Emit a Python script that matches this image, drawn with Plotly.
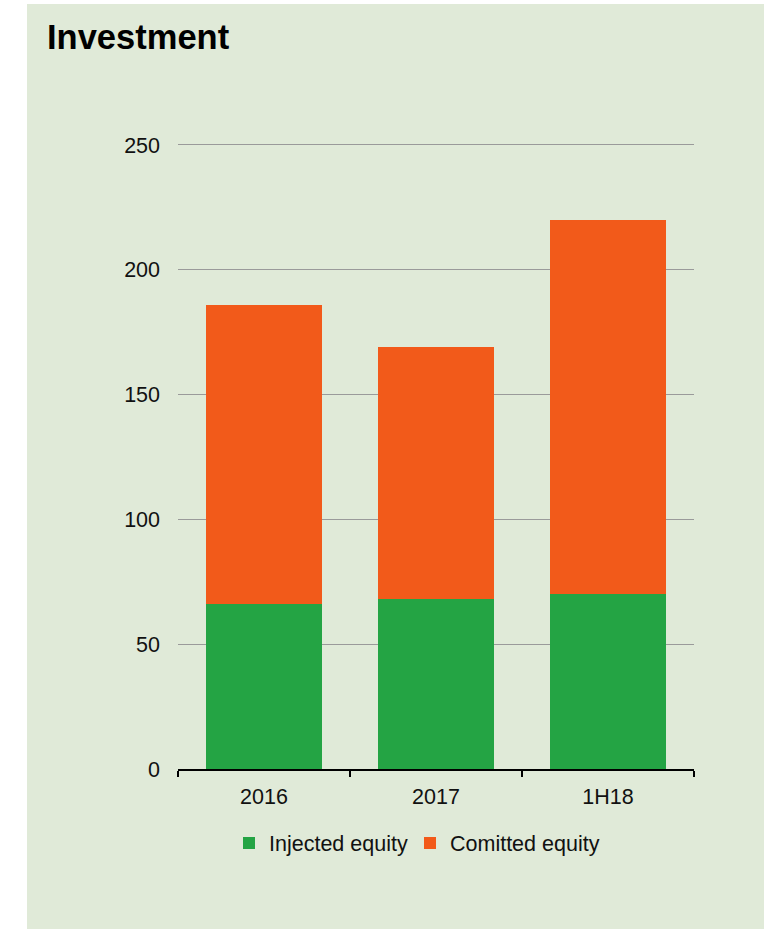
import plotly.graph_objects as go

categories = ["2016", "2017", "1H18"]
injected_equity = [66, 68, 70]
committed_equity = [120, 101, 150]
series_names = ["Injected equity", "Comitted equity"]
y_tick_values = [0, 50, 100, 150, 200, 250]

GREEN = "#24A444"
ORANGE = "#F25A1A"
PANEL = "#E0EAD8"
FONT = "Arial, 'Liberation Sans', sans-serif"
FS = 21.5

W, H = 769, 929
Y_MAX = 252
L, R, T, B = 178, 75, 140, 160
pw, ph = W - L - R, H - T - B

def px_x(p):
    return (p - L) / pw

def px_y(p):
    return (H - B - p) / ph

fig = go.Figure()
fig.add_trace(go.Bar(x=categories, y=injected_equity, name=series_names[0],
                     marker=dict(color=GREEN, line=dict(width=0)), legend="legend"))
fig.add_trace(go.Bar(x=categories, y=committed_equity, name=series_names[1],
                     marker=dict(color=ORANGE, line=dict(width=0)), legend="legend2"))

fig.add_shape(type="rect", xref="paper", yref="paper",
              x0=px_x(27), x1=px_x(764), y0=px_y(929), y1=px_y(4),
              fillcolor=PANEL, line=dict(width=0), layer="below")

legend_common = dict(orientation="h", xref="paper", yref="paper", xanchor="left",
                     yanchor="middle", y=px_y(843), bgcolor="rgba(0,0,0,0)",
                     font=dict(size=FS), itemwidth=30)

fig.update_layout(
    width=W, height=H,
    margin=dict(l=L, r=R, t=T, b=B, pad=0),
    barmode="stack", bargap=0.33,
    paper_bgcolor="white", plot_bgcolor="rgba(0,0,0,0)",
    font=dict(family=FONT, size=FS, color="#111111"),
    title=dict(text="<b>Investment</b>", font=dict(family=FONT, size=34.5, color="#000000"),
               xref="container", x=47 / W, xanchor="left",
               yref="container", y=1 - 37 / H, yanchor="middle"),
    showlegend=True,
    legend=dict(x=px_x(229), **legend_common),
    legend2=dict(x=px_x(410), **legend_common),
    xaxis=dict(showline=True, linecolor="#000000", linewidth=2,
               ticks="outside", tickson="boundaries", ticklen=6, tickwidth=2,
               tickcolor="#000000", showgrid=False, ticklabelstandoff=7,
               tickfont=dict(size=FS)),
    yaxis=dict(range=[0, Y_MAX], tickvals=y_tick_values, showgrid=True,
               gridcolor="#9A9A9A", gridwidth=1, zeroline=False, showline=False,
               ticks="", ticklabelstandoff=17, tickfont=dict(size=FS)),
)

fig.write_html("out.html")
